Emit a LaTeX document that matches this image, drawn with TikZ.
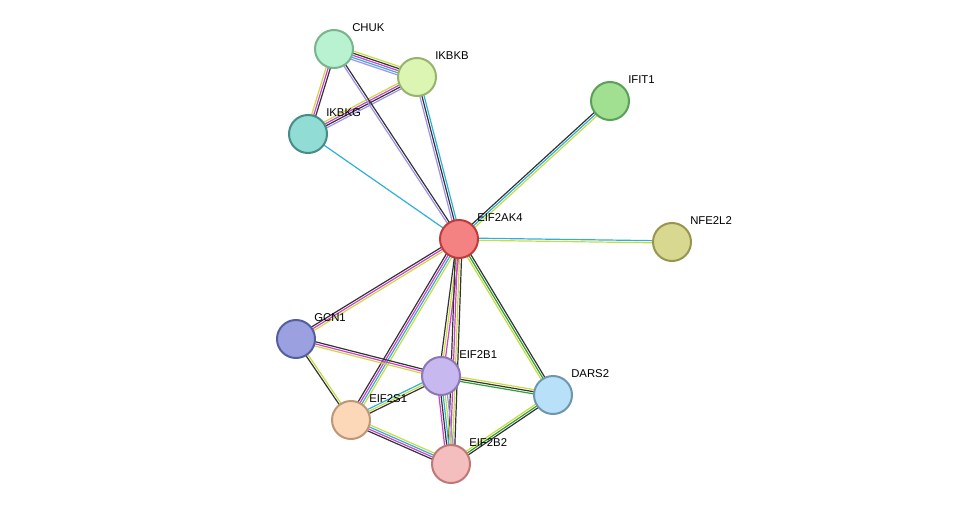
\documentclass[tikz,border=0pt]{standalone}
\usepackage{fontspec}
\setmainfont{Liberation Sans}
\usetikzlibrary{calc}
\pgfdeclarelayer{bg}
\pgfsetlayers{bg,main}
\definecolor{cBk}{HTML}{333333}
\definecolor{cYe}{HTML}{C8DC40}
\definecolor{cCy}{HTML}{30B0D8}
\definecolor{cMa}{HTML}{D040D0}
\definecolor{cLa}{HTML}{A090F0}
\definecolor{cGr}{HTML}{30A030}
\tikzset{
  prot/.style={circle,minimum size=28.5pt,inner sep=0pt,line width=1.5pt},
  lab/.style={anchor=west,font=\fontsize{8.5}{10}\selectfont,inner sep=0pt}
}
\newcommand\sedge[4]{%
  \foreach \c [count=\i] in {#4} {%
    \pgfmathsetmacro\o{(\i-(#3+1)/2)*1.6}%
    \draw[\c,line width=0.9pt] ($(#1)!\o pt!90:(#2)$) -- ($(#2)!\o pt!-90:(#1)$);
  }}
\begin{document}
\begin{tikzpicture}[x=0.75pt,y=-0.75pt]
\useasboundingbox (0,0) rectangle (975,510);
\node[prot,draw={rgb,255:red,120;green,180;blue,140},fill={rgb,255:red,184;green,242;blue,208}] (CHUK) at (334,49) {};
\node[prot,draw={rgb,255:red,150;green,180;blue,110},fill={rgb,255:red,220;green,245;blue,178}] (IKBKB) at (417,77) {};
\node[prot,draw={rgb,255:red,70;green,140;blue,135},fill={rgb,255:red,145;green,220;blue,212}] (IKBKG) at (308,134) {};
\node[prot,draw={rgb,255:red,90;green,160;blue,90},fill={rgb,255:red,160;green,224;blue,144}] (IFIT1) at (610,101) {};
\node[prot,draw={rgb,255:red,190;green,60;blue,60},fill={rgb,255:red,245;green,130;blue,130}] (EIF2AK4) at (459,239) {};
\node[prot,draw={rgb,255:red,150;green,150;blue,80},fill={rgb,255:red,216;green,216;blue,144}] (NFE2L2) at (672,242) {};
\node[prot,draw={rgb,255:red,85;green,95;blue,160},fill={rgb,255:red,154;green,160;blue,224}] (GCN1) at (296,339) {};
\node[prot,draw={rgb,255:red,140;green,120;blue,180},fill={rgb,255:red,200;green,184;blue,240}] (EIF2B1) at (441,376) {};
\node[prot,draw={rgb,255:red,110;green,150;blue,175},fill={rgb,255:red,184;green,224;blue,248}] (DARS2) at (553,395) {};
\node[prot,draw={rgb,255:red,190;green,150;blue,120},fill={rgb,255:red,252;green,216;blue,184}] (EIF2S1) at (351,420) {};
\node[prot,draw={rgb,255:red,190;green,120;blue,120},fill={rgb,255:red,244;green,190;blue,190}] (EIF2B2) at (451,464) {};
\begin{pgfonlayer}{bg}
\sedge{CHUK}{IKBKB}{5}{cLa,cCy,cMa,cBk,cYe}
\sedge{CHUK}{IKBKG}{3}{cYe,cMa,cBk}
\sedge{IKBKB}{IKBKG}{4}{cYe,cMa,cBk,cLa}
\sedge{CHUK}{EIF2AK4}{2}{cLa,cBk}
\sedge{IKBKB}{EIF2AK4}{3}{cLa,cBk,cCy}
\sedge{IKBKG}{EIF2AK4}{1}{cCy}
\sedge{IFIT1}{EIF2AK4}{3}{cBk,cCy,cYe}
\sedge{NFE2L2}{EIF2AK4}{2}{cCy,cYe}
\sedge{GCN1}{EIF2AK4}{3}{cYe,cMa,cBk}
\sedge{EIF2AK4}{EIF2B1}{3}{cBk,cYe,cMa}
\sedge{EIF2AK4}{EIF2S1}{4}{cBk,cMa,cCy,cYe}
\sedge{EIF2AK4}{EIF2B2}{4}{cBk,cMa,cYe,cBk}
\sedge{EIF2AK4}{DARS2}{3}{cYe,cGr,cBk}
\sedge{GCN1}{EIF2B1}{3}{cYe,cMa,cBk}
\sedge{GCN1}{EIF2S1}{2}{cBk,cYe}
\sedge{EIF2B1}{DARS2}{3}{cGr,cBk,cYe}
\sedge{EIF2B1}{EIF2S1}{3}{cCy,cYe,cBk}
\sedge{EIF2B1}{EIF2B2}{5}{cMa,cBk,cCy,cYe,cLa}
\sedge{EIF2S1}{EIF2B2}{4}{cBk,cMa,cCy,cYe}
\sedge{DARS2}{EIF2B2}{3}{cYe,cGr,cBk}
\end{pgfonlayer}
\node[lab] (lCHUK) at (352,28) {CHUK};
\node[lab] (lIKBKB) at (435,56) {IKBKB};
\node[lab] (lIKBKG) at (326,113) {IKBKG};
\node[lab] (lIFIT1) at (628,80) {IFIT1};
\node[lab] (lEIF2AK4) at (477,218) {EIF2AK4};
\node[lab] (lNFE2L2) at (690,221) {NFE2L2};
\node[lab] (lGCN1) at (314,318) {GCN1};
\node[lab] (lEIF2B1) at (459,355) {EIF2B1};
\node[lab] (lDARS2) at (571,374) {DARS2};
\node[lab] (lEIF2S1) at (369,399) {EIF2S1};
\node[lab] (lEIF2B2) at (469,443) {EIF2B2};
\end{tikzpicture}
\end{document}
